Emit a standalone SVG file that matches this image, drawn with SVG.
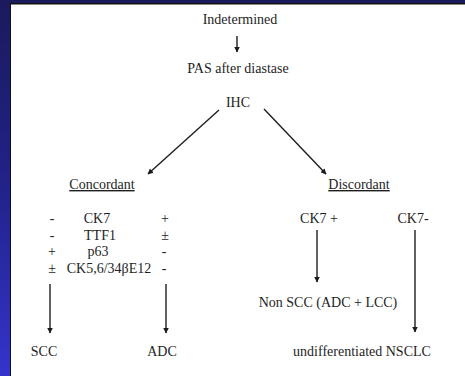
<svg xmlns="http://www.w3.org/2000/svg" width="465" height="376" viewBox="0 0 465 376">
<style>
text{font-family:'Liberation Serif','Times New Roman',serif;font-size:14px;fill:#1e1e1e;text-anchor:middle;}
.u{text-decoration:underline;}
.ln{stroke:#1e1e1e;stroke-width:1.4;fill:none;marker-end:url(#ah);}
</style>
<defs>
<linearGradient id="bg" x1="0" y1="0" x2="0" y2="1">
<stop offset="0" stop-color="#1a1a5c"/>
<stop offset="0.5" stop-color="#22228a"/>
<stop offset="1" stop-color="#3434cc"/>
</linearGradient>
<marker id="ah" viewBox="0 0 10 10" refX="9" refY="5" markerWidth="4" markerHeight="4" orient="auto" markerUnits="strokeWidth">
<path d="M0,0 L10,5 L0,10 z" fill="#1a1a1a"/>
</marker>
</defs>
<rect x="0" y="0" width="465" height="376" fill="url(#bg)"/>
<rect x="0" y="0" width="465" height="4" fill="#1a1a5c"/>
<rect x="10" y="3" width="455" height="373" fill="#111"/>
<rect x="11" y="4.5" width="454" height="371.5" fill="#ffffff"/>
<g id="connectors">
<line class="ln" x1="237" y1="36" x2="237" y2="52"/>
<line class="ln" x1="219" y1="110" x2="148" y2="174"/>
<line class="ln" x1="264" y1="109" x2="326" y2="174"/>
<line class="ln" x1="50" y1="284" x2="50" y2="333"/>
<line class="ln" x1="166" y1="284" x2="166" y2="333"/>
<line class="ln" x1="317" y1="230" x2="317" y2="282"/>
<line class="ln" x1="415" y1="230" x2="415" y2="332"/>
</g>
<g id="indetermined"><text x="240" y="24">Indetermined</text></g>
<g id="pas"><text x="238" y="73">PAS after diastase</text></g>
<g id="ihc"><text x="238" y="107">IHC</text></g>
<g id="concordant"><text class="u" x="102" y="189">Concordant</text></g>
<g id="discordant"><text class="u" x="359" y="189">Discordant</text></g>
<g id="markers">
<text x="52" y="223">-</text>
<text x="52" y="239.5">-</text>
<text x="52" y="256">+</text>
<text x="52" y="273">±</text>
<text x="97" y="223">CK7</text>
<text x="100" y="239.5">TTF1</text>
<text x="98" y="256">p63</text>
<text x="109" y="273">CK5,6/34βE12</text>
<text x="165" y="223">+</text>
<text x="165" y="239.5">±</text>
<text x="164" y="256">-</text>
<text x="164" y="273">-</text>
</g>
<g id="scc"><text x="44" y="356">SCC</text></g>
<g id="adc"><text x="162" y="356">ADC</text></g>
<g id="ck7pos"><text x="319" y="223">CK7 +</text></g>
<g id="ck7neg"><text x="413" y="223">CK7-</text></g>
<g id="nonscc"><text x="328" y="307">Non SCC (ADC + LCC)</text></g>
<g id="nsclc"><text x="362" y="356">undifferentiated NSCLC</text></g>
</svg>
